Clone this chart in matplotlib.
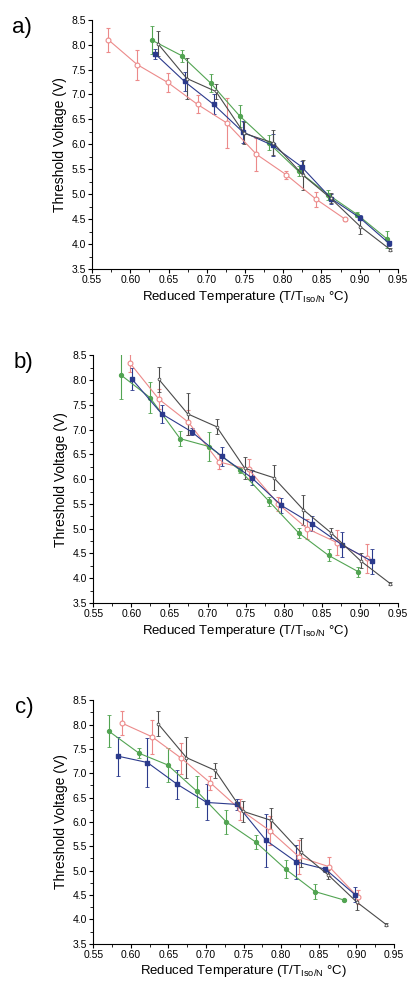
import numpy as np
import matplotlib.pyplot as plt
from matplotlib.ticker import MultipleLocator

plt.rcParams['font.family'] = ['Liberation Sans', 'DejaVu Sans']

# reference series (black), same in all three panels
black_x = [0.636, 0.674, 0.712, 0.749, 0.787, 0.826, 0.862, 0.901, 0.940]
black_y = [8.02, 7.32, 7.06, 6.22, 6.03, 5.38, 4.92, 4.35, 3.89]
black_e = [0.25, 0.42, 0.15, 0.22, 0.25, 0.30, 0.10, 0.15, 0.03]

# panel a
a_red_x = [0.571, 0.609, 0.649, 0.688, 0.726, 0.765, 0.804, 0.843, 0.881]
a_red_y = [8.10, 7.60, 7.24, 6.80, 6.43, 5.80, 5.39, 4.90, 4.50]
a_red_e = [0.24, 0.30, 0.20, 0.18, 0.50, 0.33, 0.08, 0.15, 0.03]
a_green_x = [0.628, 0.667, 0.705, 0.743, 0.781, 0.820, 0.859, 0.897, 0.936]
a_green_y = [8.09, 7.78, 7.23, 6.57, 6.03, 5.46, 4.99, 4.59, 4.10]
a_green_e = [0.28, 0.12, 0.18, 0.22, 0.15, 0.10, 0.10, 0.05, 0.17]
a_blue_x = [0.632, 0.671, 0.709, 0.747, 0.786, 0.824, 0.863, 0.900, 0.938]
a_blue_y = [7.82, 7.26, 6.80, 6.25, 5.98, 5.55, 4.91, 4.53, 4.02]
a_blue_e = [0.10, 0.20, 0.20, 0.22, 0.22, 0.12, 0.10, 0.05, 0.05]

# panel b
b_red_x = [0.598, 0.636, 0.675, 0.715, 0.754, 0.793, 0.831, 0.870, 0.909]
b_red_y = [8.35, 7.62, 7.15, 6.35, 6.20, 5.50, 5.00, 4.72, 4.40]
b_red_e = [0.18, 0.20, 0.25, 0.15, 0.20, 0.15, 0.20, 0.25, 0.30]
b_green_x = [0.586, 0.6245, 0.664, 0.702, 0.742, 0.781, 0.820, 0.859, 0.898]
b_green_y = [8.11, 7.65, 6.82, 6.66, 6.19, 5.55, 4.91, 4.46, 4.13]
b_green_e = [0.48, 0.32, 0.15, 0.30, 0.06, 0.10, 0.10, 0.12, 0.10]
b_blue_x = [0.601, 0.640, 0.679, 0.719, 0.758, 0.797, 0.837, 0.876, 0.916]
b_blue_y = [8.02, 7.32, 6.96, 6.46, 6.03, 5.47, 5.10, 4.68, 4.34]
b_blue_e = [0.22, 0.18, 0.07, 0.20, 0.15, 0.15, 0.15, 0.25, 0.25]

# panel c
c_red_x = [0.588, 0.628, 0.667, 0.706, 0.745, 0.785, 0.824, 0.864, 0.902]
c_red_y = [8.03, 7.75, 7.31, 6.80, 6.26, 5.82, 5.28, 5.08, 4.46]
c_red_e = [0.25, 0.35, 0.32, 0.15, 0.22, 0.30, 0.35, 0.20, 0.15]
c_green_x = [0.571, 0.611, 0.649, 0.688, 0.727, 0.766, 0.806, 0.845, 0.883]
c_green_y = [7.86, 7.41, 7.17, 6.63, 6.00, 5.59, 5.03, 4.57, 4.40]
c_green_e = [0.33, 0.10, 0.35, 0.32, 0.25, 0.15, 0.18, 0.15, 0.02]
c_blue_x = [0.583, 0.622, 0.662, 0.701, 0.741, 0.780, 0.820, 0.859, 0.898]
c_blue_y = [7.35, 7.22, 6.77, 6.40, 6.36, 5.62, 5.18, 5.03, 4.51]
c_blue_e = [0.40, 0.50, 0.30, 0.37, 0.12, 0.55, 0.35, 0.05, 0.15]

panels = [
    ('a)', (a_red_x, a_red_y, a_red_e), (a_green_x, a_green_y, a_green_e), (a_blue_x, a_blue_y, a_blue_e)),
    ('b)', (b_red_x, b_red_y, b_red_e), (b_green_x, b_green_y, b_green_e), (b_blue_x, b_blue_y, b_blue_e)),
    ('c)', (c_red_x, c_red_y, c_red_e), (c_green_x, c_green_y, c_green_e), (c_blue_x, c_blue_y, c_blue_e)),
]

RED = '#ec8a8a'
GREEN = '#52a452'
BLUE = '#2b3a8c'
BLACK = '#4a4a4a'

fig = plt.figure(figsize=(4.09, 9.82), dpi=100)
boxes = [[0.225, 0.726, 0.748, 0.254],
         [0.228, 0.386, 0.745, 0.252],
         [0.228, 0.039, 0.735, 0.248]]

for i, (box, (lab, red, green, blue)) in enumerate(zip(boxes, panels)):
    ax = fig.add_axes(box)
    kw = dict(lw=0.8, elinewidth=0.8, capsize=1.2, capthick=0.6)
    ax.errorbar(*red[:2], yerr=red[2], color=RED, marker='o', ms=3.5,
                mfc='white', mec=RED, mew=0.8, **kw)
    ax.errorbar(*green[:2], yerr=green[2], color=GREEN, marker='o', ms=2.8, **kw)
    ax.errorbar(*blue[:2], yerr=blue[2], color=BLUE, marker='s', ms=2.8, **kw)
    ax.errorbar(black_x, black_y, yerr=black_e, color=BLACK, marker='o', ms=2,
                mfc='white', mec=BLACK, mew=0.6, **kw)

    ax.set_xlim(0.55, 0.95)
    ax.set_ylim(3.5, 8.5)
    ax.xaxis.set_major_locator(MultipleLocator(0.05))
    ax.xaxis.set_minor_locator(MultipleLocator(0.025))
    ax.yaxis.set_major_locator(MultipleLocator(0.5))
    ax.yaxis.set_minor_locator(MultipleLocator(0.25))
    ax.xaxis.set_major_formatter(plt.FormatStrFormatter('%.2f'))
    ax.yaxis.set_major_formatter(plt.FormatStrFormatter('%.1f'))
    ax.tick_params(direction='out', length=3, width=0.8, labelsize=7.5, pad=1.5)
    ax.tick_params(which='minor', direction='out', length=2, width=0.6)
    ax.spines['top'].set_visible(False)
    ax.spines['right'].set_visible(False)
    ax.set_ylabel('Threshold Voltage (V)', fontsize=10, labelpad=3)
    ax.set_xlabel(r'Reduced Temperature (T/T$_{\mathregular{Iso/N}}$ °C)',
                  fontsize=9.5, labelpad=3 if i < 2 else 2)
    ax.text(-0.26, 0.97, lab, transform=ax.transAxes, fontsize=16, va='center', ha='left')

fig.savefig('out.png', dpi=100)
